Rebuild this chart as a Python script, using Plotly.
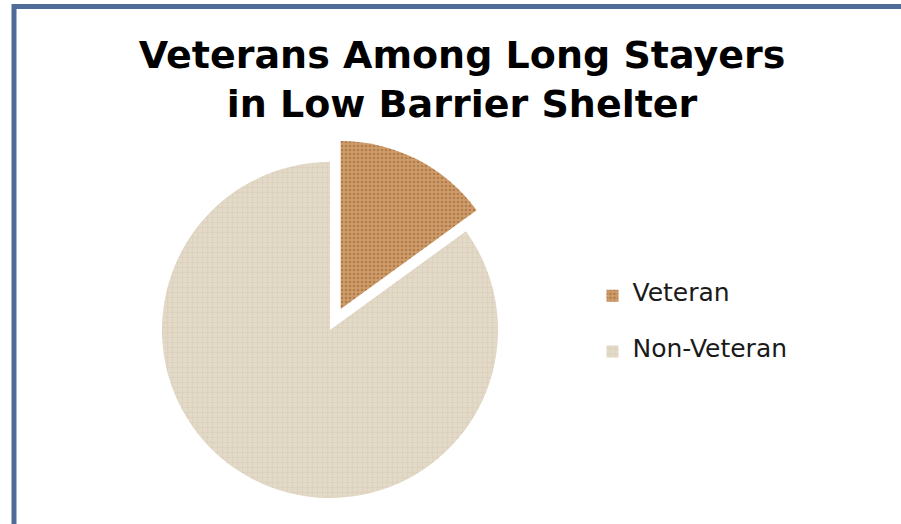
import plotly.graph_objects as go

# Data
labels = ["Veteran", "Non-Veteran"]
values = [15, 85]

title_lines = ["Veterans Among Long Stayers", "in Low Barrier Shelter"]

W, H = 901, 524


def px(x):
    return x / W


def py(y):
    return 1 - y / H


legend_labels = [" <br><span style='font-size:25px'>%s</span><br> " % l for l in labels]

fig = go.Figure()
fig.add_trace(go.Pie(
    labels=legend_labels,
    values=values,
    sort=False,
    direction="clockwise",
    rotation=0,
    pull=[0.14, 0],
    textinfo="none",
    hoverinfo="label+percent",
    marker=dict(
        colors=["#CC9866", "#E2D9C7"],
        line=dict(width=0),
        pattern=dict(
            shape=[".", "+"],
            bgcolor=["#CF9C69", "#E2D9C7"],
            fgcolor=["#8E5C32", "#C2B69E"],
            size=[4, 5],
            solidity=[0.35, 0.15],
            fillmode="overlay",
        ),
    ),
    domain=dict(x=[px(138.5), px(521.5)], y=[py(521.5), py(138.5)]),
))

fig.update_layout(
    width=W,
    height=H,
    margin=dict(l=0, r=0, t=0, b=0),
    paper_bgcolor="white",
    title=dict(
        text="<b>" + "<br>".join(title_lines) + "</b>",
        x=px(462),
        xanchor="center",
        y=py(68),
        yanchor="top",
        font=dict(family="DejaVu Sans", size=38, color="black"),
    ),
    showlegend=True,
    legend=dict(
        x=px(592.5),
        xanchor="left",
        y=py(324),
        yanchor="middle",
        font=dict(family="DejaVu Sans", size=13.5, color="#1a1a1a"),
        bgcolor="rgba(0,0,0,0)",
    ),
    shapes=[dict(
        type="rect", xref="paper", yref="paper",
        x0=px(14), x1=1.05, y0=-0.05, y1=py(6.5),
        line=dict(color="#4F6C98", width=5),
        fillcolor="rgba(0,0,0,0)",
        layer="below",
    )],
)

fig.write_html(
    "out.html",
    config={"displayModeBar": False},
    post_script="document.body.style.margin='0';document.body.style.padding='0';"
                "document.body.style.overflow='hidden';",
)
